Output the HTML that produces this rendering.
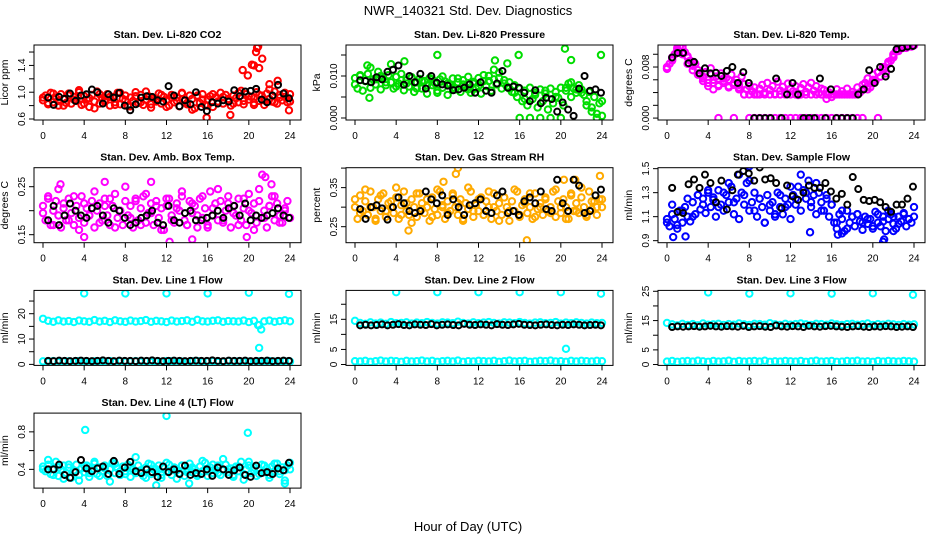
<!DOCTYPE html>
<html><head><meta charset="utf-8">
<style>
html,body{margin:0;padding:0;background:#fff;}
svg{display:block;font-family:"Liberation Sans",sans-serif;}
</style></head>
<body>
<svg id="chart" width="936" height="540" viewBox="0 0 936 540" xmlns="http://www.w3.org/2000/svg">
<rect width="936" height="540" fill="#fff"/>
<text x="468" y="15" text-anchor="middle" font-size="13">NWR_140321  Std. Dev. Diagnostics</text>
<text x="468" y="531" text-anchor="middle" font-size="13">Hour of Day (UTC)</text>
</svg>
<script>
const xTicks = [0,4,8,12,16,20,24];

const co2Main = [0.88,0.95,0.82,0.99,0.85,0.92,0.80,0.97,0.90,0.84,0.98,0.83,0.93,0.87,1.00,0.81,0.94,0.89,0.78,0.96,0.86,1.01,0.83,0.91,0.88,0.97,0.80,0.93,0.85,0.99,0.82,0.90,0.95,0.79,0.92,0.87,1.00,0.84,0.96,0.81,0.89,0.94,0.77,0.91,0.86,0.98,0.83,0.93,0.88,0.80,0.96,0.85,0.92,0.79,0.99,0.87,0.82,0.95,0.90,0.76,0.93,0.84,0.97,0.81,0.89,0.94,0.78,0.92,0.86,0.99,0.83,0.96,0.88,0.80,0.95,0.91,0.85,1.02,0.82,0.97,0.89,0.93,0.84,1.00,0.87,0.95,0.81,0.98,0.90,0.86,1.01,0.83,0.96,0.88,0.93,0.85,0.97];
const co2Main2 = [0.92,0.84,0.98,0.87,0.80,0.95,0.89,1.03,0.83,0.91,0.76,0.97,0.86,0.93,0.81,0.99,0.88,0.79,0.94,0.85,1.01,0.82,0.90,0.96,0.78,0.92,0.87,0.98,0.84,0.74,0.95,0.89,0.80,0.97,0.86,0.93,0.90,0.83,0.99,0.87,0.94,0.81,0.96,0.88,1.04,0.85,0.92,0.99,0.86];
const co2Black = [0.92,0.81,0.93,0.90,0.98,0.87,0.95,0.97,1.04,1.00,0.83,0.97,0.92,0.99,0.80,0.73,0.82,0.92,0.94,0.93,0.88,0.86,1.09,0.95,0.79,0.88,0.82,1.00,0.78,0.72,0.85,0.83,0.88,0.86,1.03,0.94,1.01,1.02,1.05,0.89,0.85,0.95,1.11,0.98,0.91];
const co2OutHours = [19.4,19.9,20.3,20.5,20.7,20.8,20.9,21.0,21.3,22.0,22.8,23.9,15.9,18.2];
const co2OutVals = [1.33,1.25,1.41,1.40,1.60,1.66,1.68,1.36,1.50,1.12,1.17,0.73,0.62,0.66];

const presMain = [0.0095,0.0070,0.0100,0.0065,0.0088,0.0105,0.0072,0.0092,0.0080,0.0110,0.0068,0.0095,0.0078,0.0102,0.0085,0.0070,0.0098,0.0082,0.0105,0.0066,0.0090,0.0075,0.0097,0.0062,0.0085,0.0093,0.0070,0.0088,0.0058,0.0095,0.0078,0.0083,0.0060,0.0092,0.0072,0.0087,0.0055,0.0080,0.0094,0.0068,0.0085,0.0062,0.0090,0.0074,0.0098,0.0060,0.0082,0.0070,0.0095,0.0058,0.0088,0.0076,0.0100,0.0065,0.0092,0.0080,0.0108,0.0070,0.0090,0.0075,0.0085,0.0062,0.0078,0.0050,0.0070,0.0040,0.0065,0.0030,0.0072,0.0045,0.0060,0.0025,0.0068,0.0040,0.0058,0.0020,0.0070,0.0035,0.0062,0.0048,0.0072,0.0030,0.0065,0.0082,0.0050,0.0070,0.0060,0.0078,0.0068,0.0055,0.0040,0.0062,0.0025,0.0050,0.0010,0.0035,0.0005];
const presMain2 = [0.0080,0.0102,0.0088,0.0120,0.0092,0.0100,0.0085,0.0128,0.0075,0.0090,0.0082,0.0096,0.0070,0.0088,0.0078,0.0092,0.0065,0.0099,0.0082,0.0072,0.0094,0.0080,0.0068,0.0086,0.0076,0.0102,0.0088,0.0115,0.0095,0.0082,0.0070,0.0060,0.0000,0.0045,0.0000,0.0055,0.0000,0.0065,0.0000,0.0050,0.0000,0.0072,0.0085,0.0068,0.0060,0.0030,0.0015,0.0000,0.0040];
const presBlack = [0.0090,0.0088,0.0085,0.0097,0.0092,0.0110,0.0115,0.0125,0.0079,0.0100,0.0085,0.0105,0.0070,0.0100,0.0084,0.0080,0.0077,0.0066,0.0068,0.0072,0.0080,0.0060,0.0085,0.0065,0.0060,0.0082,0.0112,0.0072,0.0075,0.0072,0.0060,0.0040,0.0066,0.0035,0.0048,0.0045,0.0015,0.0037,0.0020,0.0005,0.0070,0.0100,0.0065,0.0068,0.0060];
const presOutHours = [1.2,1.4,4.8,8.0,15.9,20.4,21.0,23.9,13.6,14.8];
const presOutVals = [0.0125,0.0048,0.0135,0.0150,0.0150,0.0165,0.0138,0.0150,0.0137,0.0130];

const tempMain = [0.0077,0.0085,0.0092,0.0100,0.0108,0.0112,0.0110,0.0103,0.0097,0.0090,0.0082,0.0085,0.0075,0.0068,0.0062,0.0072,0.0055,0.0078,0.0060,0.0065,0.0052,0.0070,0.0058,0.0063,0.0050,0.0068,0.0055,0.0060,0.0048,0.0065,0.0053,0.0045,0.0050,0.0042,0.0048,0.0037,0.0046,0.0052,0.0040,0.0055,0.0044,0.0050,0.0038,0.0057,0.0043,0.0049,0.0040,0.0054,0.0046,0.0042,0.0050,0.0036,0.0047,0.0053,0.0041,0.0048,0.0055,0.0043,0.0050,0.0039,0.0046,0.0044,0.0037,0.0040,0.0033,0.0037,0.0045,0.0037,0.0042,0.0037,0.0046,0.0037,0.0041,0.0037,0.0048,0.0040,0.0052,0.0055,0.0062,0.0048,0.0068,0.0058,0.0072,0.0065,0.0078,0.0070,0.0085,0.0090,0.0098,0.0105,0.0108,0.0110,0.0112,0.0110,0.0113,0.0112,0.0114];
const tempMain2 = [0.0078,0.0090,0.0105,0.0112,0.0095,0.0088,0.0070,0.0065,0.0060,0.0055,0.0050,0.0062,0.0048,0.0052,0.0045,0.0037,0.0037,0.0037,0.0037,0.0037,0.0037,0.0037,0.0037,0.0037,0.0037,0.0037,0.0037,0.0037,0.0037,0.0037,0.0037,0.0030,0.0037,0.0037,0.0037,0.0037,0.0037,0.0037,0.0044,0.0050,0.0060,0.0072,0.0080,0.0088,0.0100,0.0108,0.0112,0.0114,0.0115];
const tempMain3 = [0.0080,0.0095,0.0110,0.0100,0.0085,0.0075,0.0068,0.0058,0.0050,0.0045,0.0000,0.0055,0.0060,0.0000,0.0052,0.0037,0,0,0,0,0,0,0,0,0,0,0,0,0,0,0,0,0,0,0,0,0,0,0,0.0045,0.0055,0.0000,0.0075,0.0085,0.0095,0.0105,0.0110,0.0113,0.0114];
const tempBlack = [0.0095,0.0102,0.0102,0.0086,0.0088,0.0070,0.0078,0.0070,0.0071,0.0066,0.0074,0.0080,0.0055,0.0072,0.0055,0.0000,0.0000,0.0000,0.0000,0.0062,0.0000,0.0037,0.0055,0.0037,0.0000,0.0000,0.0000,0.0062,0.0000,0.0045,0.0000,0.0000,0.0000,0.0000,0.0037,0.0045,0.0075,0.0055,0.0080,0.0065,0.0077,0.0108,0.0110,0.0112,0.0113];

const ambMain = [0.21,0.18,0.23,0.17,0.20,0.22,0.19,0.165,0.215,0.18,0.225,0.195,0.17,0.21,0.185,0.23,0.175,0.205,0.19,0.22,0.165,0.20,0.215,0.18,0.225,0.19,0.17,0.21,0.235,0.185,0.20,0.17,0.22,0.19,0.21,0.165,0.225,0.18,0.205,0.23,0.175,0.195,0.215,0.17,0.22,0.185,0.205,0.16,0.21,0.225,0.19,0.175,0.215,0.20,0.23,0.18,0.17,0.22,0.195,0.21,0.165,0.225,0.185,0.205,0.17,0.24,0.19,0.215,0.18,0.22,0.175,0.20,0.23,0.165,0.21,0.19,0.225,0.18,0.205,0.17,0.235,0.195,0.215,0.175,0.22,0.185,0.20,0.165,0.21,0.23,0.18,0.215,0.19,0.175,0.205,0.22,0.185];
const ambMain2 = [0.195,0.225,0.17,0.245,0.205,0.18,0.23,0.16,0.215,0.19,0.24,0.175,0.21,0.225,0.165,0.20,0.25,0.185,0.22,0.17,0.235,0.195,0.21,0.16,0.225,0.18,0.205,0.24,0.17,0.215,0.19,0.23,0.165,0.205,0.245,0.18,0.215,0.195,0.17,0.225,0.20,0.16,0.245,0.185,0.21,0.23,0.175,0.20,0.185];
const ambBlack = [0.18,0.21,0.17,0.19,0.215,0.20,0.19,0.185,0.205,0.21,0.19,0.175,0.205,0.20,0.185,0.17,0.175,0.185,0.19,0.20,0.175,0.17,0.21,0.18,0.175,0.195,0.20,0.18,0.18,0.185,0.19,0.20,0.185,0.205,0.21,0.19,0.215,0.18,0.19,0.185,0.19,0.195,0.205,0.19,0.185];
const ambOutHours = [1.7,4.0,10.5,12.3,14.5,18.8,19.8,21.3,21.6,22.2,6.0];
const ambOutVals = [0.255,0.145,0.26,0.135,0.14,0.30,0.145,0.275,0.27,0.255,0.26];

const rhMain = [0.30,0.27,0.33,0.29,0.315,0.28,0.34,0.30,0.265,0.32,0.29,0.335,0.275,0.31,0.30,0.285,0.325,0.27,0.305,0.34,0.29,0.28,0.32,0.30,0.275,0.335,0.31,0.285,0.30,0.265,0.325,0.295,0.28,0.34,0.305,0.27,0.315,0.29,0.335,0.30,0.28,0.32,0.265,0.31,0.295,0.34,0.275,0.305,0.29,0.325,0.28,0.315,0.30,0.27,0.335,0.29,0.31,0.28,0.325,0.30,0.265,0.315,0.29,0.34,0.275,0.305,0.32,0.285,0.30,0.27,0.335,0.295,0.31,0.28,0.325,0.29,0.30,0.34,0.275,0.315,0.285,0.32,0.30,0.27,0.335,0.29,0.31,0.285,0.325,0.30,0.275,0.34,0.295,0.315,0.28,0.32,0.30];
const rhMain2 = [0.32,0.285,0.345,0.30,0.27,0.33,0.29,0.315,0.35,0.28,0.31,0.26,0.335,0.295,0.32,0.275,0.345,0.30,0.285,0.33,0.31,0.27,0.35,0.29,0.32,0.28,0.34,0.30,0.265,0.325,0.29,0.345,0.28,0.31,0.335,0.275,0.30,0.32,0.285,0.345,0.30,0.27,0.33,0.29,0.35,0.28,0.315,0.30,0.32];
const rhBlack = [0.295,0.27,0.30,0.305,0.297,0.268,0.30,0.325,0.31,0.29,0.285,0.29,0.34,0.32,0.31,0.33,0.28,0.32,0.30,0.28,0.305,0.31,0.32,0.29,0.285,0.33,0.34,0.285,0.29,0.28,0.315,0.325,0.31,0.34,0.295,0.29,0.37,0.31,0.29,0.37,0.355,0.285,0.29,0.33,0.345];
const rhOutHours = [10.0,9.8,5.2,16.7,23.8,8.6,20.3,21.4];
const rhOutVals = [0.40,0.385,0.24,0.215,0.38,0.365,0.37,0.37];

const flowMain = [1.05,1.02,1.12,1.08,1.00,1.15,1.05,1.18,1.10,1.06,1.22,1.12,1.28,1.16,1.25,1.13,1.30,1.18,1.26,1.10,1.32,1.20,1.15,1.28,1.22,1.35,1.12,1.25,1.08,1.30,1.20,1.38,1.15,1.22,1.30,1.10,1.25,1.18,1.05,1.28,1.15,1.22,1.10,1.30,1.18,1.12,1.25,1.20,1.08,1.28,1.20,1.35,1.15,1.32,1.25,1.40,1.18,1.28,1.12,1.30,1.22,1.15,1.25,1.10,1.20,1.05,1.00,1.12,1.08,0.98,1.15,1.05,1.10,1.02,1.12,1.06,0.99,1.10,1.04,1.08,1.00,1.14,1.05,1.02,1.10,0.98,1.08,1.12,1.04,1.00,1.10,1.06,1.13,1.02,1.08,1.05,1.10];
const flowMain2 = [1.08,1.20,1.03,1.15,1.25,1.10,1.28,1.20,1.32,1.24,1.18,1.30,1.38,1.22,1.45,1.28,1.40,1.15,1.25,1.05,1.20,1.12,1.28,1.18,1.35,1.25,1.45,1.30,1.22,1.38,1.15,1.28,1.20,1.05,1.15,1.00,1.10,1.12,1.05,1.08,1.02,1.12,1.06,1.15,1.10,1.04,1.12,1.08,1.18];
const flowBlack = [1.34,1.14,1.13,1.37,1.41,1.34,1.45,1.38,1.22,1.40,1.16,1.32,1.45,1.48,1.46,1.40,1.51,1.41,1.42,1.38,1.17,1.36,1.27,1.24,1.30,1.36,1.34,1.34,1.38,1.31,1.25,1.29,1.20,1.43,1.33,1.24,1.23,1.24,1.22,1.18,1.14,1.20,1.20,1.25,1.35];
const flowOutHours = [0.6,1.8,21.0,21.1,17.0,13.9,8.0,16.6,22.0];
const flowOutVals = [0.93,0.935,0.89,0.91,0.96,0.97,1.52,0.95,0.98];

const l1High = [18.0,17.2,16.8,17.4,16.9,17.1,16.7,17.3,17.0,16.8,17.5,16.9,17.2,16.7,17.4,17.0,16.8,17.3,16.9,17.1,17.5,16.8,17.2,17.0,16.7,17.3,16.9,17.1,17.4,16.8,17.6,17.0,16.9,17.2,17.4,16.8,17.1,17.0,16.9,17.3,16.7,17.2,15.5,17.0,17.3,16.8,17.1,17.4,17.0];
const l1Low = [1.2,1.0,1.3,0.9,1.1,1.2,1.0,1.3,1.1,0.9,1.2,1.0,1.1,1.3,0.9,1.2,1.0,1.1,1.3,1.0,1.2,0.9,1.1,1.0,1.3,1.2,1.0,1.1,0.9,1.2,1.3,1.0,1.1,1.2,0.9,1.0,1.3,1.1,1.2,1.0,1.1,0.9,1.2,1.0,1.3,1.1,1.0,1.2,1.1];
const l1Black = [1.4,1.3,1.5,1.4,1.3,1.4,1.5,1.4,1.3,1.4,1.6,1.4,1.3,1.5,1.4,1.4,1.3,1.5,1.4,1.6,1.4,1.3,1.4,1.5,1.4,1.3,1.4,1.5,1.4,1.4,1.6,1.4,1.3,1.5,1.4,1.4,1.5,1.3,1.4,1.4,1.5,1.3,1.4,1.5,1.4];
const l1OutHours = [4,8,12,16,20,23.9,21.0,21.2,20.9];
const l1OutVals = [28,28,28,28,28.3,27.8,6.5,13.8,15.5];

const l2High = [14.5,13.8,13.5,14.0,13.6,13.9,13.5,14.1,13.7,13.8,14.0,13.6,13.9,13.7,14.1,13.8,13.6,14.0,13.9,13.7,14.2,13.8,13.6,14.0,13.7,13.9,14.1,13.8,13.6,14.0,13.9,13.7,14.1,13.8,13.6,13.9,14.0,13.7,13.8,14.1,13.6,13.9,13.7,14.0,13.8,13.6,13.9,13.7,13.8];
const l2Low = [1.1,1.0,1.2,0.9,1.1,1.3,1.0,1.2,1.1,0.9,1.2,1.0,1.1,1.3,1.0,1.2,0.9,1.1,1.2,1.0,1.3,0.9,1.1,1.0,1.2,1.1,1.0,1.2,0.9,1.1,1.3,1.0,1.1,1.2,0.9,1.0,1.2,1.1,1.3,1.0,1.1,0.9,1.2,1.0,1.2,1.1,1.0,1.2,1.1];
const l2Black = [13.0,13.2,13.0,13.1,13.3,13.0,13.2,13.4,13.1,13.0,13.3,13.2,13.1,13.4,13.0,13.2,13.3,13.1,13.0,13.5,13.2,13.1,13.3,13.2,13.0,13.4,13.2,13.1,13.3,13.5,13.2,13.1,13.0,13.2,13.3,13.1,13.0,13.2,13.1,13.3,13.2,13.0,13.1,13.2,13.0];
const l2OutHours = [4,8,12,16,20,23.9,20.5];
const l2OutVals = [24,24,24,24,24,23.5,5.2];

const l3High = [14.2,13.7,13.4,13.9,13.5,13.8,13.4,14.0,13.6,13.7,13.9,13.5,13.8,13.6,14.0,13.7,13.5,13.9,13.8,13.6,14.1,13.7,13.5,13.9,13.6,13.8,14.0,13.7,13.5,13.9,13.8,13.6,14.0,13.7,13.5,13.8,13.9,13.6,13.7,14.0,13.5,13.8,13.6,13.9,13.7,13.5,13.8,13.6,13.7];
const l3Low = [1.0,1.2,0.9,1.1,1.2,1.0,1.3,1.1,0.9,1.2,1.0,1.1,1.3,0.9,1.2,1.0,1.1,1.2,1.0,1.3,0.9,1.1,1.0,1.2,1.1,1.0,1.2,0.9,1.1,1.3,1.0,1.1,1.2,0.9,1.0,1.2,1.1,1.3,1.0,1.1,0.9,1.2,1.0,1.2,1.1,1.0,1.2,1.1,1.0];
const l3Black = [12.8,13.0,12.9,13.0,13.1,12.9,13.0,13.2,13.0,12.9,13.1,13.0,12.9,13.2,12.8,13.0,13.1,12.9,12.8,13.3,13.0,12.9,13.1,13.0,12.8,13.2,13.0,12.9,13.1,13.2,13.0,12.9,12.8,13.0,13.1,12.9,12.8,13.0,12.9,13.1,13.0,12.8,12.9,13.0,12.8];
const l3OutHours = [4,8,12,16,20,23.9];
const l3OutVals = [24.6,24.2,24.3,24.2,24.3,23.8];

const l4Main = [0.43,0.38,0.45,0.35,0.41,0.48,0.33,0.40,0.44,0.36,0.42,0.31,0.39,0.45,0.34,0.41,0.37,0.44,0.32,0.40,0.46,0.35,0.42,0.38,0.44,0.33,0.40,0.47,0.36,0.41,0.34,0.43,0.38,0.45,0.32,0.40,0.36,0.44,0.39,0.33,0.42,0.46,0.35,0.40,0.37,0.44,0.31,0.41,0.38,0.45,0.34,0.42,0.39,0.36,0.44,0.33,0.41,0.46,0.37,0.40,0.35,0.43,0.38,0.47,0.33,0.42,0.36,0.40,0.44,0.34,0.39,0.45,0.37,0.41,0.32,0.43,0.38,0.48,0.35,0.40,0.44,0.36,0.42,0.33,0.39,0.45,0.37,0.41,0.34,0.43,0.38,0.46,0.35,0.42,0.39,0.44,0.40];
const l4Main2 = [0.40,0.50,0.34,0.42,0.30,0.45,0.38,0.28,0.44,0.36,0.48,0.33,0.41,0.27,0.46,0.38,0.35,0.43,0.53,0.37,0.31,0.45,0.40,0.34,0.47,0.39,0.30,0.44,0.37,0.42,0.33,0.49,0.38,0.45,0.36,0.51,0.40,0.34,0.43,0.29,0.48,0.39,0.35,0.44,0.31,0.46,0.38,0.28,0.47];
const l4Black = [0.40,0.40,0.45,0.34,0.31,0.37,0.50,0.41,0.38,0.41,0.43,0.35,0.49,0.35,0.42,0.48,0.38,0.36,0.40,0.37,0.32,0.43,0.37,0.40,0.35,0.44,0.34,0.36,0.35,0.40,0.33,0.42,0.40,0.34,0.39,0.42,0.34,0.32,0.44,0.36,0.37,0.35,0.41,0.39,0.47];
const l4OutHours = [4.1,12.0,19.9,11.0,23.5,14.2];
const l4OutVals = [0.82,0.97,0.79,0.23,0.25,0.25];

const svg = document.getElementById('chart');
const NS = 'http://www.w3.org/2000/svg';
function mk(tag, attrs, parent){
  const e = document.createElementNS(NS, tag);
  for (const k in attrs) e.setAttribute(k, attrs[k]);
  (parent || svg).appendChild(e);
  return e;
}

const panels = [
 {name:'co2', title:'Stan. Dev. Li-820 CO2', ylab:'Licor ppm', col:0,row:0, lo:0.585, hi:1.705, ticks:[0.6,0.8,1.0,1.2,1.4,1.6], labels:['0.6','','1.0','','1.4',''], color:'#ff0000', series:[co2Main,co2Main2], black:co2Black, outH:co2OutHours, outV:co2OutVals},
 {name:'pressure', title:'Stan. Dev. Li-820 Pressure', ylab:'kPa', col:1,row:0, lo:-0.00048, hi:0.01738, ticks:[0,0.005,0.010,0.015], labels:['0.000','','0.010',''], color:'#00dd00', series:[presMain,presMain2], black:presBlack, outH:presOutHours, outV:presOutVals},
 {name:'temp', title:'Stan. Dev. Li-820 Temp.', ylab:'degrees C', col:2,row:0, lo:-0.0003, hi:0.01145, ticks:[0,0.002,0.004,0.006,0.008,0.010], labels:['0.000','','','','0.008',''], color:'#ff00ff', series:[tempMain,tempMain2,tempMain3], black:tempBlack, outH:[], outV:[]},
 {name:'amb-box-temp', title:'Stan. Dev. Amb. Box Temp.', ylab:'degrees C', col:0,row:1, lo:0.1333, hi:0.2896, ticks:[0.15,0.20,0.25], labels:['0.15','','0.25'], color:'#ff00ff', series:[ambMain,ambMain2], black:ambBlack, outH:ambOutHours, outV:ambOutVals},
 {name:'gas-rh', title:'Stan. Dev. Gas Stream RH', ylab:'percent', col:1,row:1, lo:0.209, hi:0.401, ticks:[0.25,0.30,0.35,0.40], labels:['0.25','','0.35',''], color:'#ffaa00', series:[rhMain,rhMain2], black:rhBlack, outH:rhOutHours, outV:rhOutVals},
 {name:'sample-flow', title:'Stan. Dev. Sample Flow', ylab:'ml/min', col:2,row:1, lo:0.883, hi:1.508, ticks:[0.9,1.1,1.3,1.5], labels:['0.9','1.1','1.3','1.5'], color:'#0000ff', series:[flowMain,flowMain2], black:flowBlack, outH:flowOutHours, outV:flowOutVals},
 {name:'line1-flow', title:'Stan. Dev. Line 1 Flow', ylab:'ml/min', col:0,row:2, lo:-0.4, hi:29.2, ticks:[0,5,10,15,20,25], labels:['0','','10','','20',''], color:'#00ffff', series:[l1High,l1Low], black:l1Black, outH:l1OutHours, outV:l1OutVals},
 {name:'line2-flow', title:'Stan. Dev. Line 2 Flow', ylab:'ml/min', col:1,row:2, lo:-0.3, hi:24.6, ticks:[0,5,10,15,20], labels:['0','5','','15',''], color:'#00ffff', series:[l2High,l2Low], black:l2Black, outH:l2OutHours, outV:l2OutVals},
 {name:'line3-flow', title:'Stan. Dev. Line 3 Flow', ylab:'ml/min', col:2,row:2, lo:-0.3, hi:25.3, ticks:[0,5,10,15,20,25], labels:['0','5','','15','','25'], color:'#00ffff', series:[l3High,l3Low], black:l3Black, outH:l3OutHours, outV:l3OutVals},
 {name:'line4-flow', title:'Stan. Dev. Line 4 (LT) Flow', ylab:'ml/min', col:0,row:3, lo:0.2, hi:1.0, ticks:[0.4,0.6,0.8], labels:['0.4','','0.8'], color:'#00ffff', series:[l4Main,l4Main2], black:l4Black, outH:l4OutHours, outV:l4OutVals}
];

panels.forEach(p => {
  const left = 34 + p.col*312, right = left + 267;
  const top = 45 + p.row*122.7, bottom = top + 75;
  const x0 = left + 9, x1 = left + 256;
  const xs = h => x0 + (x1 - x0) * h / 24;
  const ys = v => bottom - (v - p.lo) / (p.hi - p.lo) * (bottom - top);
  const g = mk('g', {});
  
  
  const cp = mk('clipPath', {id:'clip-'+p.name}, g);
  mk('rect', {x:left, y:top, width:right-left, height:bottom-top}, cp);
  const t = mk('text', {x:(left+right)/2, y:top-7, 'text-anchor':'middle', 'font-size':10.5, 'font-weight':'bold'}, g);
  t.textContent = p.title;
  
  
  const yl = mk('text', {transform:`translate(${left-26},${(top+bottom)/2}) rotate(-90)`, 'text-anchor':'middle', 'font-size':10.5}, g);
  yl.textContent = p.ylab;
  
  
  const pts = mk('g', {'clip-path':`url(#clip-${p.name})`, fill:'none'}, g);
  p.series.forEach((arr, si) => {
    const sg = mk('g', {stroke:p.color, 'stroke-width':2}, pts);
    
    
    arr.forEach((v, i) => {
      const c = mk('circle', {cx:xs(24*i/(arr.length-1)), cy:ys(v), r:3.2}, sg);
      
      
    });
  });
  const og = mk('g', {stroke:p.color, 'stroke-width':2}, pts);
  
  
  p.outH.forEach((h, i) => {
    const c = mk('circle', {cx:xs(h), cy:ys(p.outV[i]), r:3.2}, og);
    
    
  });
  const bg = mk('g', {stroke:'#000', 'stroke-width':2}, pts);
  
  
  p.black.forEach((v, i) => {
    const h = 0.5 + 23.4 * i / (p.black.length - 1);
    const c = mk('circle', {cx:xs(h), cy:ys(v), r:3}, bg);
    
    
  });
  const box = mk('rect', {x:left, y:top, width:right-left, height:bottom-top, fill:'none', stroke:'#000', 'stroke-width':1}, g);
  
  
  xTicks.forEach(h => {
    mk('line', {x1:xs(h), x2:xs(h), y1:bottom, y2:bottom+5, stroke:'#000'}, g);
    const lt = mk('text', {x:xs(h), y:bottom+19, 'text-anchor':'middle', 'font-size':10}, g);
    lt.textContent = h;
    
    
  });
  p.ticks.forEach((v, i) => {
    const y = ys(v);
    mk('line', {x1:left-5, x2:left, y1:y, y2:y, stroke:'#000'}, g);
    if (p.labels[i]) {
      const lt = mk('text', {transform:`translate(${left-9},${y}) rotate(-90)`, 'text-anchor':'middle', 'font-size':10}, g);
      lt.textContent = p.labels[i];
      
      
    }
  });
});
</script>
</body></html>
